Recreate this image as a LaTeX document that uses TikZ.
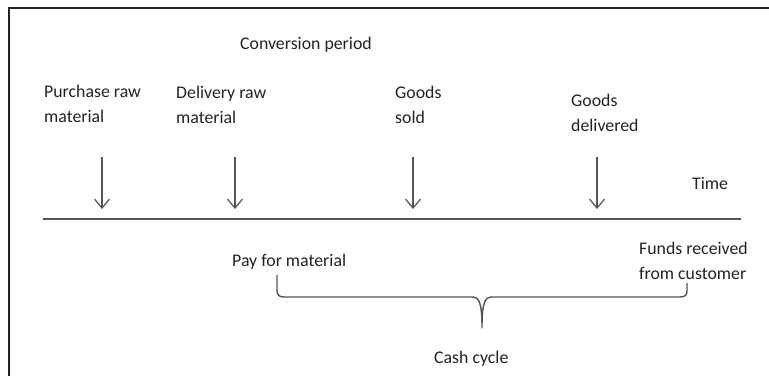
\documentclass[tikz,border=0pt]{standalone}
\usepackage{fontspec}
\setmainfont{Carlito}
\usetikzlibrary{arrows.meta}
\definecolor{txt}{HTML}{222222}
\definecolor{ln}{HTML}{555555}
\begin{document}
\begin{tikzpicture}[x=1pt,y=-1pt,
  lbl/.style={anchor=base west,inner sep=0pt,text=txt,font=\fontsize{17.8}{25}\selectfont,align=left},
  down/.style={draw=ln,line width=1.2pt,-{Straight Barb[length=9pt,width=15pt,line width=1.2pt]}},
  frameline/.style={draw=txt,line width=2pt},
  axis/.style={draw=ln,line width=2pt},
  brace/.style={draw=ln,line width=1.4pt,line join=round}]
\useasboundingbox (0,0) rectangle (769,376);
% frame (top and left only)
\draw[frameline] (769,8) -- (9,8) -- (9,376);
% labels (multi-line nodes: base = last line)
\node[lbl] (conv) at (240,49) {Conversion period};
\node[lbl] (pur) at (44,122) {Purchase raw\\material};
\node[lbl] (del) at (176,123) {Delivery raw\\material};
\node[lbl] (sold) at (395,123) {Goods\\sold};
\node[lbl] (gdel) at (571,131) {Goods\\delivered};
\node[lbl] (time) at (692,189) {Time};
\node[lbl] (pay) at (232,266) {Pay for material};
\node[lbl] (funds) at (639,279) {Funds received\\from customer};
\node[lbl] (cash) at (434,363) {Cash cycle};
% arrows
\foreach \n/\x in {a/102,b/235,c/413,d/597}{
  \coordinate (\n s) at (\x,157);
  \coordinate (\n e) at (\x,209);
  \draw[down] (\n s) -- (\n e);
}
% time axis
\coordinate (ax1) at (43,219);
\coordinate (ax2) at (741,219);
\draw[axis] (ax1) -- (ax2);
% brace
\coordinate (bl) at (277,275);
\coordinate (br) at (687,283);
\coordinate (bt) at (482,328);
\draw[brace] (bl) -- (277,290) .. controls (277,295) and (279,297) .. (284,297)
  -- (472,297) .. controls (479,297) and (482,302) .. (bt)
  .. controls (482,302) and (485,297) .. (492,297)
  -- (680,297) .. controls (685,297) and (687,295) .. (687,291) -- (br);
\end{tikzpicture}
\end{document}
